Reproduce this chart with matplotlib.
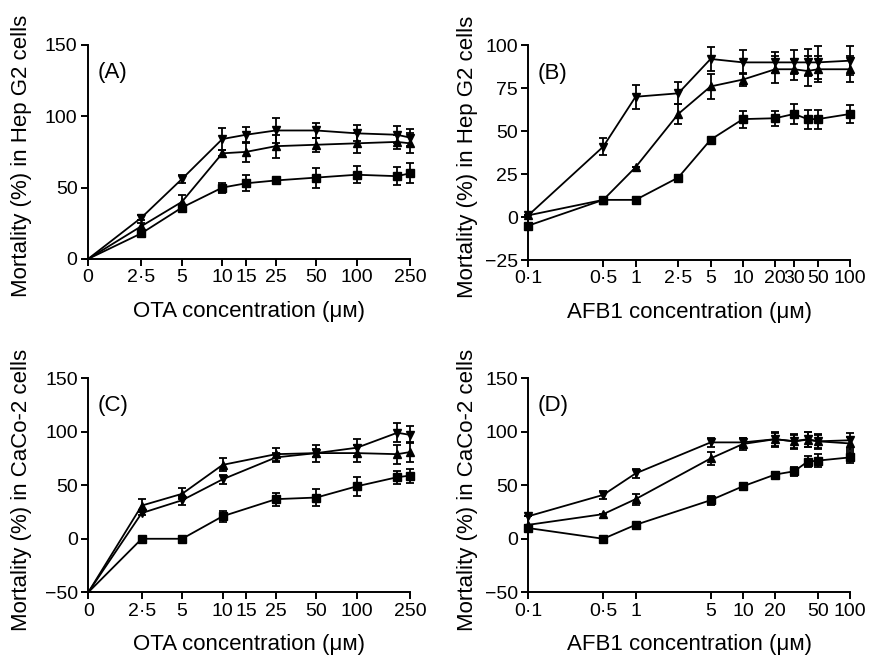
"""
Mortality of Hep G2 and CaCo-2 cells exposed to OTA and AFB1 (four panels).
"""

import matplotlib
matplotlib.use("Agg")
import matplotlib.pyplot as plt
from matplotlib.ticker import FixedLocator, FixedFormatter, NullLocator

plt.rcParams["font.family"] = ["Liberation Sans", "DejaVu Sans"]
plt.rcParams["font.size"] = 16

# ── Data ───────────────────────────────────────────────────────────────────────
# Panel A: OTA, Hep G2
A_X = [0, 2.5, 5, 10, 15, 25, 50, 100, 200, 250]
A_DOWN = [0, 29, 56, 84, 87, 90, 90, 88, 87, 85]
A_DOWN_ERR = [0, 2, 3, 7.5, 5.5, 9, 5, 5.5, 6, 6]
A_UP = [0, 23, 40, 74, 75, 79, 80, 81, 82, 81]
A_UP_ERR = [0, 2, 5, 2, 7, 8, 5, 7, 5, 7]
A_SQ = [0, 18, 36, 50, 53, 55, 57, 59, 58, 60]
A_SQ_ERR = [0, 2, 2, 3.5, 5.5, 2, 7, 6, 6.5, 7]

# Panel B: AFB1, Hep G2
B_X = [0.1, 0.5, 1, 2.5, 5, 10, 20, 30, 40, 50, 100]
B_DOWN = [1, 41, 70, 72, 92, 90, 90, 90, 90, 90, 91]
B_DOWN_ERR = [0, 5, 7, 6.5, 7, 7, 6, 7, 8, 9.5, 8.5]
B_UP = [1, 10, 29, 60, 76, 80, 86, 86, 85, 86, 86]
B_UP_ERR = [0, 0, 0, 6, 7.5, 4, 8, 6, 9, 7.5, 7.5]
B_SQ = [-5, 10, 10, 23, 45, 57, 57.5, 60, 57, 57, 60]
B_SQ_ERR = [0, 0, 0, 1.5, 0, 5, 4.5, 6, 5.5, 5.5, 5]

# Panel C: OTA, CaCo-2
C_X = [0, 2.5, 5, 10, 25, 50, 100, 200, 250]
C_DOWN = [-50, 24, 36, 55.5, 76, 80, 85, 99, 97]
C_DOWN_ERR = [0, 2, 4, 4, 4, 4, 8, 9, 8]
C_UP = [-50, 31, 42, 69, 79, 80, 80, 79, 81]
C_UP_ERR = [0, 6, 5, 6, 6, 8, 8, 9, 9]
C_SQ = [-50, 0, 0, 21, 37, 38.5, 49, 57.5, 59]
C_SQ_ERR = [0, 0, 0, 5, 6, 8, 9, 6, 6.5]

# Panel D: AFB1, CaCo-2
D_X = [0.1, 0.5, 1, 5, 10, 20, 30, 40, 50, 100]
D_DOWN = [21, 41, 61, 90, 90, 93, 91, 93, 91, 92]
D_DOWN_ERR = [0, 4, 4, 4, 4, 7, 7, 7, 7, 7]
D_UP = [13, 23, 37, 75, 88.5, 93, 91, 92.5, 91, 89]
D_UP_ERR = [0, 0, 5, 6, 6, 6, 6, 7, 6, 6]
D_SQ = [10, 0, 13, 36, 49, 60, 63, 72, 73, 76]
D_SQ_ERR = [2, 0, 0, 4, 3, 2, 4, 5, 6, 5]

# Tick labels
OTA_TICKS = [0, 2.5, 5, 10, 15, 25, 50, 100, 250]
OTA_TICKLABELS = ["0", "2·5", "5", "10", "15", "25", "50", "100", "250"]
AFB_B_TICKS = [0.1, 0.5, 1, 2.5, 5, 10, 20, 30, 50, 100]
AFB_B_TICKLABELS = ["0·1", "0·5", "1", "2·5", "5", "10", "20", "30", "50", "100"]
AFB_D_TICKS = [0.1, 0.5, 1, 5, 10, 20, 50, 100]
AFB_D_TICKLABELS = ["0·1", "0·5", "1", "5", "10", "20", "50", "100"]


def xpos(values):
    # log axis: the "0" concentration sits at the position of 1
    return [v if v > 0 else 1 for v in values]


# ── Figure ─────────────────────────────────────────────────────────────────────
fig = plt.figure(figsize=(8.75, 6.55), dpi=100, facecolor="white")

W, H = 0.368, 0.327
ax_a = fig.add_axes([0.1006, 0.6046, W, H])
ax_b = fig.add_axes([0.6037, 0.6030, W, 0.328])
ax_c = fig.add_axes([0.1009, 0.0957, W, H])
ax_d = fig.add_axes([0.6037, 0.0957, W, H])


def draw_panel(ax, x, series, zero_start, ylim, yticks, xticks, xticklabels,
               xlim, letter, xlabel, ylabel, ylab_x, xlab_y):
    px = xpos(x)
    for y, err, mk in series:
        every = slice(1, None) if zero_start else slice(0, None)
        ax.errorbar(px, y, yerr=err, color="black", lw=1.3, elinewidth=1.3,
                    capsize=2.6, capthick=1.3, marker=mk, ms=5.5,
                    markevery=every, clip_on=False, zorder=3)
    ax.set_xscale("log")
    ax.set_xlim(*xlim)
    ax.set_ylim(*ylim)
    ax.xaxis.set_major_locator(FixedLocator(xpos(xticks)))
    ax.xaxis.set_major_formatter(FixedFormatter(xticklabels))
    ax.xaxis.set_minor_locator(NullLocator())
    ax.set_yticks(yticks)
    ax.spines[["top", "right"]].set_visible(False)
    ax.spines[["left", "bottom"]].set_linewidth(1.4)
    ax.tick_params(direction="out", length=5, width=1.4, labelsize=14, pad=2.5)
    ax.text(0.03, 0.87, letter, transform=ax.transAxes, fontsize=16,
            ha="left", va="center")
    ax.set_xlabel(xlabel, fontsize=16)
    ax.set_ylabel(ylabel, fontsize=16)
    ax.yaxis.set_label_coords(ylab_x, 0.48)
    ax.xaxis.set_label_coords(0.5, xlab_y)


draw_panel(ax_a, A_X,
           [(A_DOWN, A_DOWN_ERR, "v"), (A_UP, A_UP_ERR, "^"), (A_SQ, A_SQ_ERR, "s")],
           True, (0, 150), [0, 50, 100, 150], OTA_TICKS, OTA_TICKLABELS,
           (1, 250), "(A)", "OTA concentration (μᴍ)",
           "Mortality (%) in Hep G2 cells", -0.174, -0.195)

draw_panel(ax_b, B_X,
           [(B_DOWN, B_DOWN_ERR, "v"), (B_UP, B_UP_ERR, "^"), (B_SQ, B_SQ_ERR, "s")],
           False, (-25, 100), [-25, 0, 25, 50, 75, 100], AFB_B_TICKS,
           AFB_B_TICKLABELS, (0.1, 100), "(B)", "AFB1 concentration (μᴍ)",
           "Mortality (%) in Hep G2 cells", -0.157, -0.195)

draw_panel(ax_c, C_X,
           [(C_DOWN, C_DOWN_ERR, "v"), (C_UP, C_UP_ERR, "^"), (C_SQ, C_SQ_ERR, "s")],
           True, (-50, 150), [-50, 0, 50, 100, 150], OTA_TICKS, OTA_TICKLABELS,
           (1, 250), "(C)", "OTA concentration (μᴍ)",
           "Mortality (%) in CaCo-2 cells", -0.174, -0.195)

draw_panel(ax_d, D_X,
           [(D_DOWN, D_DOWN_ERR, "v"), (D_UP, D_UP_ERR, "^"), (D_SQ, D_SQ_ERR, "s")],
           False, (-50, 150), [-50, 0, 50, 100, 150], AFB_D_TICKS,
           AFB_D_TICKLABELS, (0.1, 100), "(D)", "AFB1 concentration (μᴍ)",
           "Mortality (%) in CaCo-2 cells", -0.157, -0.195)

fig.savefig("out.png", dpi=100, facecolor="white")
